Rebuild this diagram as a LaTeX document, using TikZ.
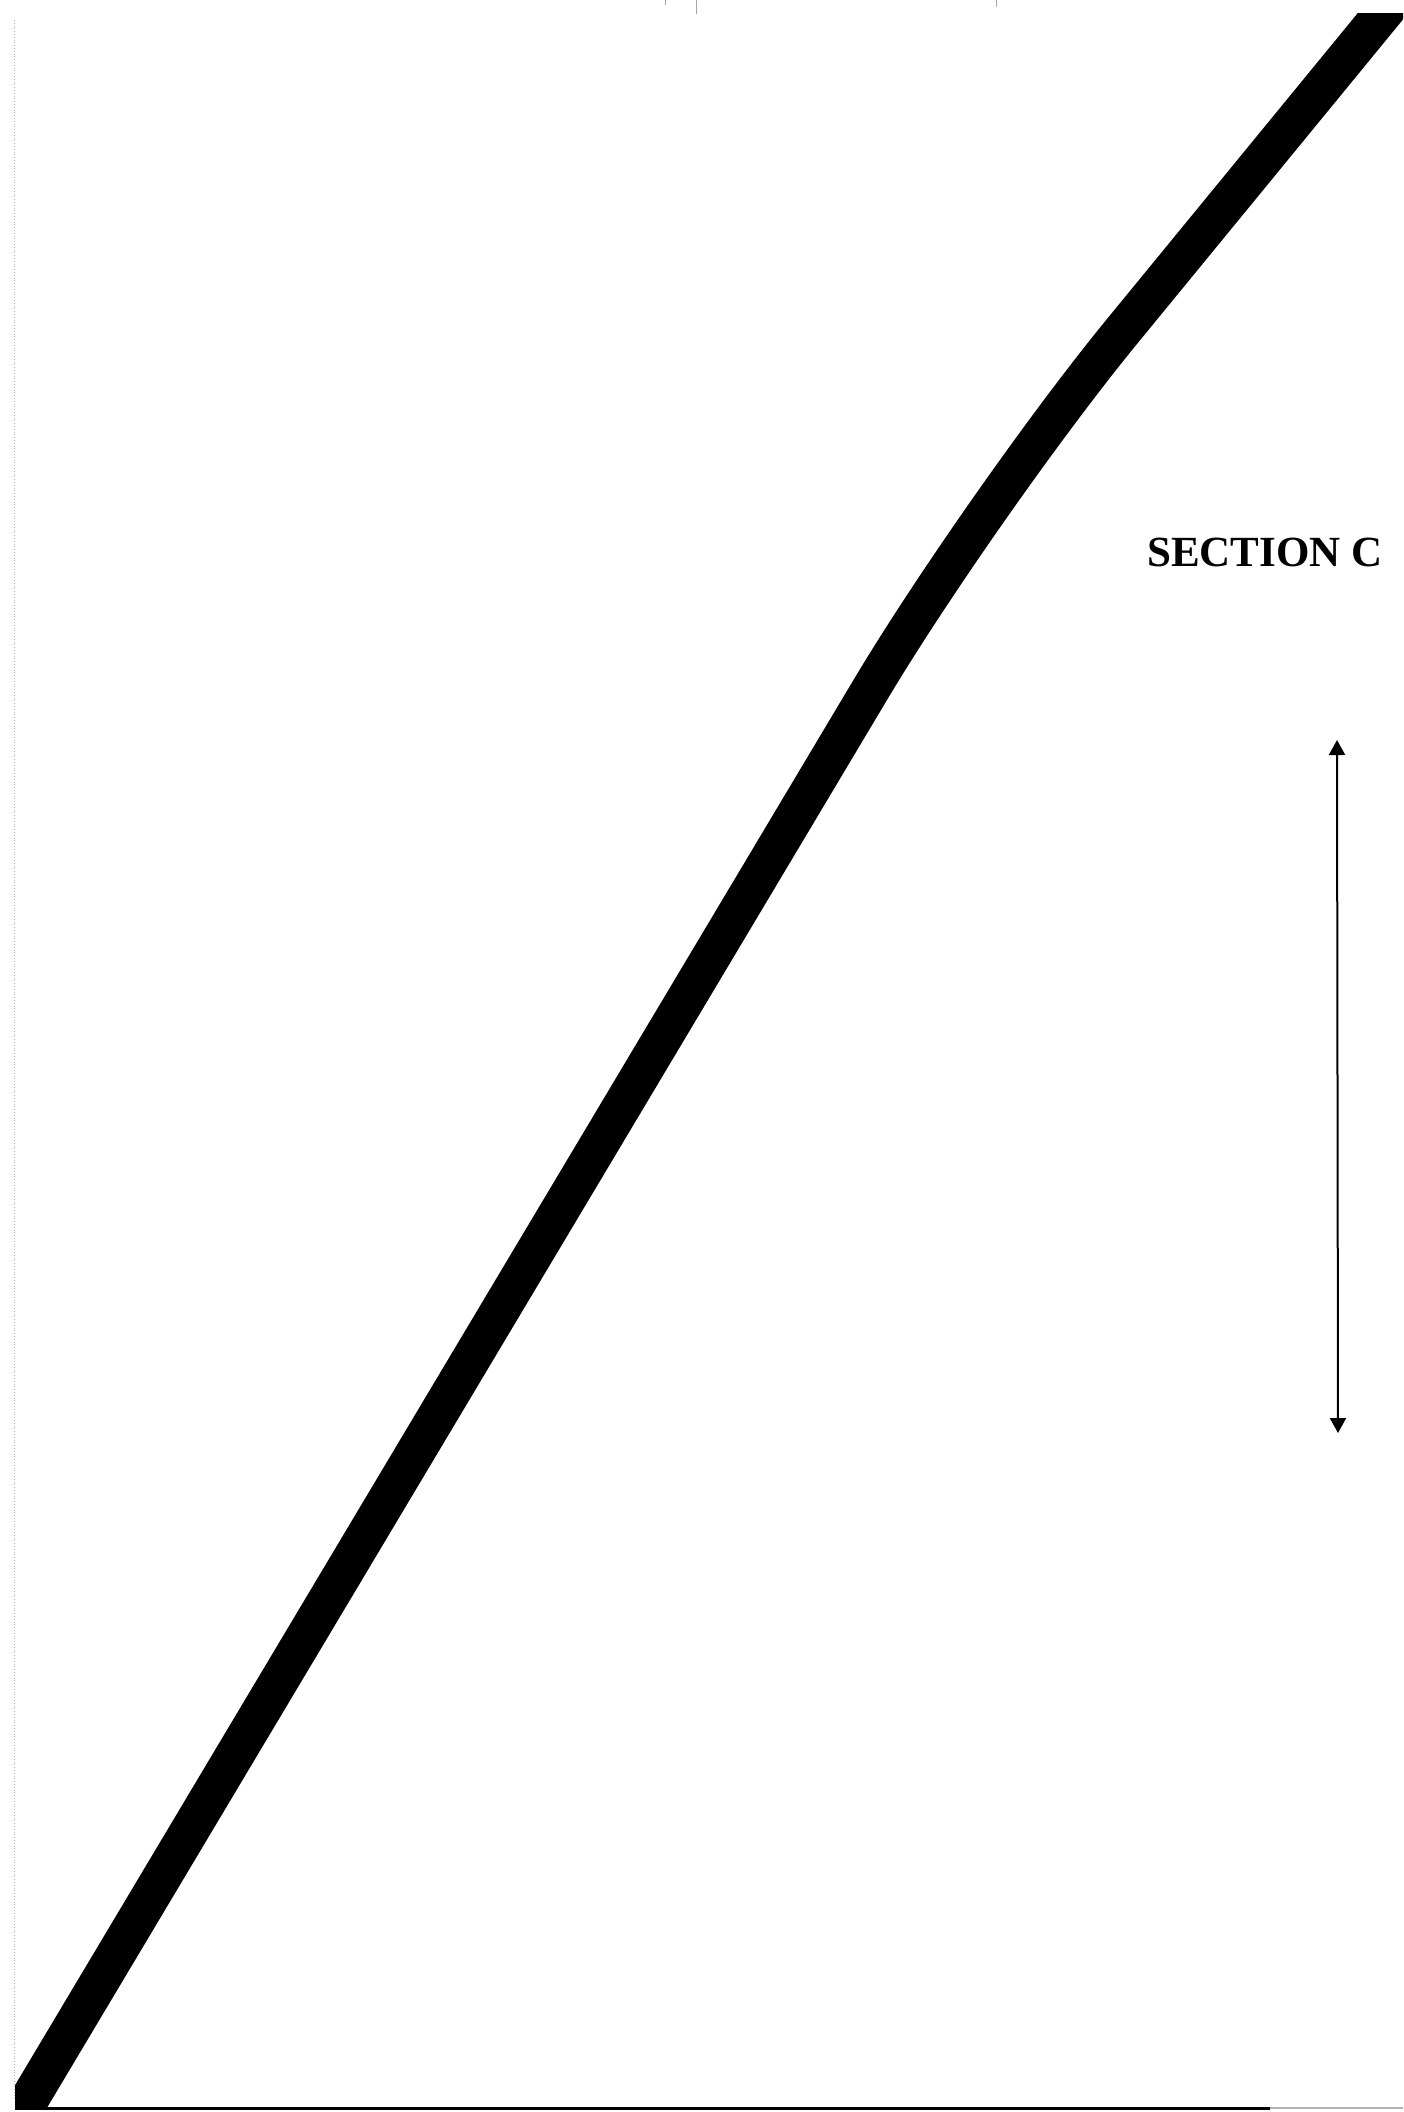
\documentclass[tikz,border=0pt]{standalone}
\usepackage{fontspec}
\setmainfont{Liberation Serif}
\usetikzlibrary{arrows.meta}
\begin{document}
\begin{tikzpicture}[x=1pt,y=-1pt,
  bigline/.style={line width=39pt,line join=round,rounded corners=220pt},
  dimarrow/.style={line width=2pt,{Triangle[width=16pt,length=15pt]}-{Triangle[width=16pt,length=15pt]}},
  label/.style={font=\fontsize{43}{50}\selectfont\bfseries,inner sep=0pt},
  edge/.style={line width=0.8pt,gray!60,dotted},
  tick/.style={line width=1pt,gray!70}]
\useasboundingbox (0,0) rectangle (1403,2112);
\fill[white] (0,0) rectangle (1403,2112);
% faint left border
\draw[edge] (14,20) -- (14,2100);
% small top ticks
\draw[tick] (665,0) -- (665,5);
\draw[tick] (696,0) -- (696,14);
\draw[tick] (996,0) -- (996,7);
% bottom base line
\draw[line width=3pt] (15,2108) -- (1270,2108);
\draw[line width=1.5pt,gray!60] (1270,2108) -- (1403,2108);
% thick curve
\coordinate (cstart) at (11,2130);
\coordinate (cbend) at (983,501);
\coordinate (cend) at (1406,-15);
\begin{scope}
\clip (15,13) rectangle (1403,2108);
\draw[bigline] (cstart) -- (cbend) -- (cend);
\end{scope}
% label
\node[label] (sec) at (1265,552) {SECTION C};
% dimension arrow
\coordinate (atop) at (1337,740);
\coordinate (abot) at (1338,1433);
\draw[dimarrow] (atop) -- (abot);
\end{tikzpicture}
\end{document}
